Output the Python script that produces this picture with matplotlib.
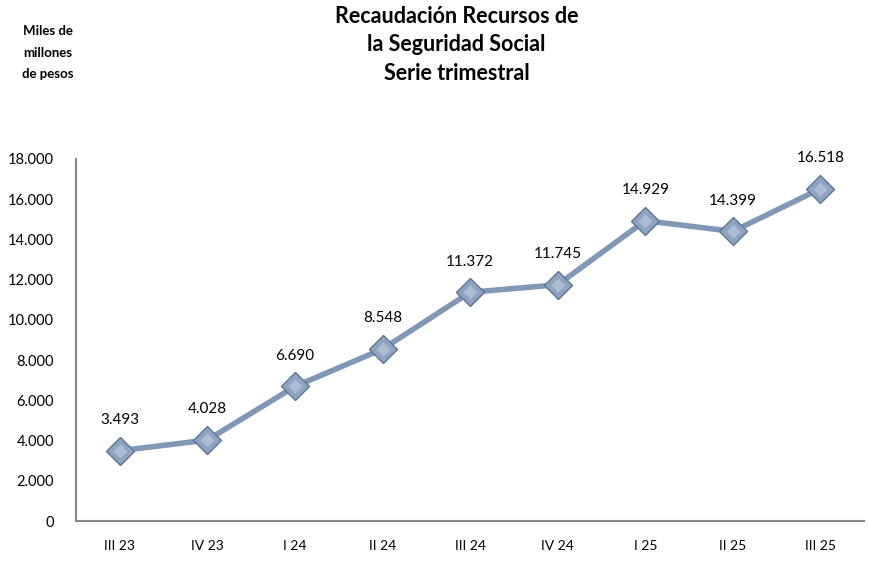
import matplotlib
matplotlib.use('Agg')
import matplotlib.pyplot as plt
import numpy as np

plt.rcParams['font.family'] = ['Lato', 'DejaVu Sans']

trimestres = ['III 23', 'IV 23', 'I 24', 'II 24', 'III 24', 'IV 24', 'I 25', 'II 25', 'III 25']
recaudacion = [3493, 4028, 6690, 8548, 11372, 11745, 14929, 14399, 16518]
y_ticks = [0, 2000, 4000, 6000, 8000, 10000, 12000, 14000, 16000, 18000]


def miles(v):
    return f'{v:,.0f}'.replace(',', '.')


fig = plt.figure(figsize=(8.7, 5.64), dpi=100)
ax = fig.add_axes([0.0874, 0.0762, 0.906, 0.642])

x = np.arange(len(trimestres))
ax.plot(x, recaudacion, color='#8197b6', lw=4, zorder=2, solid_capstyle='round')
ax.plot(x, recaudacion, ls='none', marker='D', ms=14, mfc='#8da3c0', mec='#5f7594', mew=1.0, zorder=3)
ax.plot(x, recaudacion, ls='none', marker='D', ms=7, mfc='#b3c3d8', mec='none', alpha=0.8, zorder=4)

for xi, v in zip(x, recaudacion):
    ax.annotate(miles(v), (xi, v), xytext=(0, 17), textcoords='offset points',
                ha='center', va='bottom', fontsize=11, color='black')

ax.set_xlim(-0.5, len(trimestres) - 0.5)
ax.set_ylim(0, 18000)
ax.set_yticks(y_ticks)
ax.set_yticklabels([miles(t) for t in y_ticks], fontsize=10.5)
ax.set_xticks(x)
ax.set_xticklabels(trimestres, fontsize=10)
ax.tick_params(length=0)
ax.tick_params(axis='x', pad=14)
ax.tick_params(axis='y', pad=16)

for s in ['top', 'right']:
    ax.spines[s].set_visible(False)
for s in ['left', 'bottom']:
    ax.spines[s].set_color('#868686')
    ax.spines[s].set_linewidth(1.5)

fig.text(0.525, 0.99, 'Recaudación Recursos de\nla Seguridad Social\nSerie trimestral',
         ha='center', va='top', fontsize=15.5, fontweight='bold', linespacing=1.45)
fig.text(0.055, 0.955, 'Miles de\nmillones\nde pesos', ha='center', va='top',
         fontsize=9.5, fontweight='bold', linespacing=1.95)

fig.savefig('out.png', dpi=100)
